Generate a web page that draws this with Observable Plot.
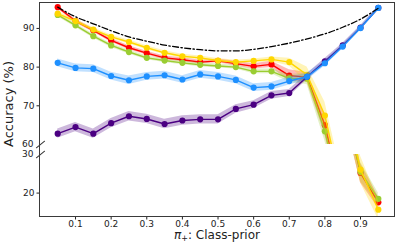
<!DOCTYPE html>
<html>
<head>
<meta charset="utf-8">
<script src="https://cdn.jsdelivr.net/npm/d3@7"></script>
<script src="https://cdn.jsdelivr.net/npm/@observablehq/plot@0.6"></script>
<style>
  html, body { margin: 0; padding: 0; background: #fff; }
  #chart { position: relative; width: 398px; height: 242px; font-family: "DejaVu Sans", sans-serif; color: #222; overflow: hidden; }
  .panel { position: absolute; left: 0; }
  .panel svg { background: transparent !important; overflow: visible; }
  #frame { position: absolute; left: 39px; top: 2px; width: 356px; height: 215px; box-sizing: border-box; border: 1px solid #3a3a3a; pointer-events: none; }
  #xlabel { position: absolute; left: 217px; top: 229.5px; transform: translateX(-50%); font-size: 12px; line-height: 11px; white-space: nowrap; }
  #xlabel sub { font-size: 8px; vertical-align: -2px; line-height: 0; }
  #ylabel { position: absolute; left: 8px; top: 104px; transform: translate(-50%, -50%) rotate(-90deg); font-size: 13px; line-height: 15px; white-space: nowrap; }
</style>
</head>
<body>
<div id="chart">
  <div class="panel" id="top" style="top:0px"></div>
  <div class="panel" id="bottom" style="top:150px"></div>
  <div id="frame"></div>
  <div id="ylabel">Accuracy (%)</div>
  <div id="xlabel"><i>π</i><sub>+</sub>: Class-prior</div>
</div>
<script>
// ---- data ----
const priors = [0.05,0.1,0.15,0.2,0.25,0.3,0.35,0.4,0.45,0.5,0.55,0.6,0.65,0.7,0.75,0.8,0.85,0.9,0.95];
const xTicks = [0.1,0.2,0.3,0.4,0.5,0.6,0.7,0.8,0.9];

const optimal = [95.5,93.0,91.2,89.4,87.8,86.7,85.7,85.0,84.5,84.2,84.2,84.6,85.3,86.2,87.3,88.6,90.3,92.4,95.2];

const accPurple = [62.8,64.5,62.8,65.5,67.3,66.6,65.3,66.2,66.5,66.5,69.2,70.3,72.7,73.3,77.5,81.5,85.6,90.2,95.3];
const sdPurple  = [1.2,1.2,1.2,1.2,1.2,1.2,1.2,1.2,1.2,1.2,1.1,1.0,1.0,0.9,0.8,0.7,0.6,0.5,0.4];

const accBlue = [81.1,79.8,79.6,77.7,76.6,77.6,77.9,76.8,78.1,77.6,76.7,74.7,75.0,76.4,77.5,81.0,85.3,90.1,95.3];
const sdBlue  = [1.0,1.0,1.0,1.0,1.1,1.0,1.0,1.0,1.0,1.0,1.0,1.0,1.0,1.0,0.9,0.7,0.6,0.5,0.4];

const accGreen = [93.5,90.8,88.0,85.6,83.9,82.4,81.7,81.1,80.6,80.3,80.0,78.9,78.9,77.1,77.0,63.4,44.5,25.5,18.5];
const sdGreen  = [0.5,0.5,0.5,0.5,0.5,0.5,0.5,0.5,0.5,0.5,0.5,0.6,0.6,1.0,1.5,2.5,3.0,2.5,1.5];

const accRed = [95.5,91.9,89.5,86.9,85.0,83.6,82.4,81.9,81.3,81.6,80.9,80.2,80.7,77.8,77.4,65.0,45.0,25.2,17.6];
const sdRed  = [0.4,0.5,0.5,0.5,0.5,0.5,0.5,0.5,0.5,0.5,0.6,0.7,0.8,1.5,1.2,2.5,3.0,2.5,1.5];

const accYellow = [93.8,91.9,89.7,87.8,86.5,85.0,83.7,82.8,82.4,81.7,81.3,81.6,82.0,81.3,78.0,67.5,47.0,26.1,15.7];
const sdYellow  = [0.5,0.5,0.5,0.5,0.5,0.5,0.5,0.5,0.5,0.5,0.5,0.5,0.6,1.0,2.0,3.5,4.0,3.5,2.5];

const colors = {purple: "#4b0082", blue: "#1e90ff", green: "#9acd32", red: "#ff0000", yellow: "#ffd700"};

// draw order: red, green, yellow, purple, blue
const series = [
  {acc: accRed, sd: sdRed, color: colors.red},
  {acc: accGreen, sd: sdGreen, color: colors.green},
  {acc: accYellow, sd: sdYellow, color: colors.yellow},
  {acc: accPurple, sd: sdPurple, color: colors.purple},
  {acc: accBlue, sd: sdBlue, color: colors.blue}
];

const rowsOf = (acc, sd) => priors.map((p, i) => ({p, v: acc[i], lo: acc[i] - sd[i], hi: acc[i] + sd[i]}));
const optRows = priors.map((p, i) => ({p, v: optimal[i]}));

const xDomain = [0.0017, 0.9954];
const slash = {draw(ctx, l) { ctx.moveTo(0, 0); ctx.lineTo(0, -l); }};

function seriesMarks() {
  const m = [];
  for (const s of series) {
    const rows = rowsOf(s.acc, s.sd);
    m.push(Plot.areaY(rows, {x: "p", y1: "lo", y2: "hi", fill: s.color, fillOpacity: 0.28, clip: true}));
    m.push(Plot.line(rows, {x: "p", y: "v", stroke: s.color, strokeWidth: 1.4, clip: true}));
    m.push(Plot.dot(rows, {x: "p", y: "v", r: 3.1, fill: s.color, stroke: "none", clip: true}));
  }
  return m;
}

const common = {
  width: 398, marginLeft: 40, marginRight: 4,
  style: {background: "transparent", fontFamily: "DejaVu Sans", fontSize: "9px", color: "#222", overflow: "visible"}
};

const topPlot = Plot.plot({
  ...common,
  height: 150, marginTop: 2, marginBottom: 6,
  x: {domain: xDomain, axis: null},
  y: {domain: [60, 96.7]},
  marks: [
    Plot.axisY({ticks: [70, 80, 90], tickSize: 3.5, tickPadding: 2.5, label: null}),
    Plot.axisY({ticks: [60], tickSize: 0, tickPadding: 7, label: null}),
    ...seriesMarks(),
    Plot.line(optRows, {x: "p", y: "v", stroke: "#000", strokeWidth: 1.3, strokeDasharray: "6,2.4,1.4,2.4", curve: "monotone-x", clip: true}),
    Plot.vector([60], {y: d => d, frameAnchor: "left", rotate: 51.5, length: 10.5, anchor: "middle", shape: slash, stroke: "#333", strokeWidth: 1})
  ]
});

const bottomPlot = Plot.plot({
  ...common,
  height: 92, marginTop: 4, marginBottom: 26,
  x: {domain: xDomain},
  y: {domain: [13.93, 30]},
  marks: [
    Plot.axisX({ticks: xTicks, tickSize: 3.5, tickPadding: 0.5, label: null, tickFormat: d => d.toFixed(1)}),
    Plot.axisY({ticks: [20], tickSize: 3.5, tickPadding: 2.5, label: null}),
    Plot.axisY({ticks: [30], tickSize: 0, tickPadding: 7, label: null}),
    ...seriesMarks(),
    Plot.vector([30], {y: d => d, frameAnchor: "left", rotate: 51.5, length: 10.5, anchor: "middle", shape: slash, stroke: "#333", strokeWidth: 1})
  ]
});

document.getElementById("top").appendChild(topPlot);
document.getElementById("bottom").appendChild(bottomPlot);
</script>
</body>
</html>
